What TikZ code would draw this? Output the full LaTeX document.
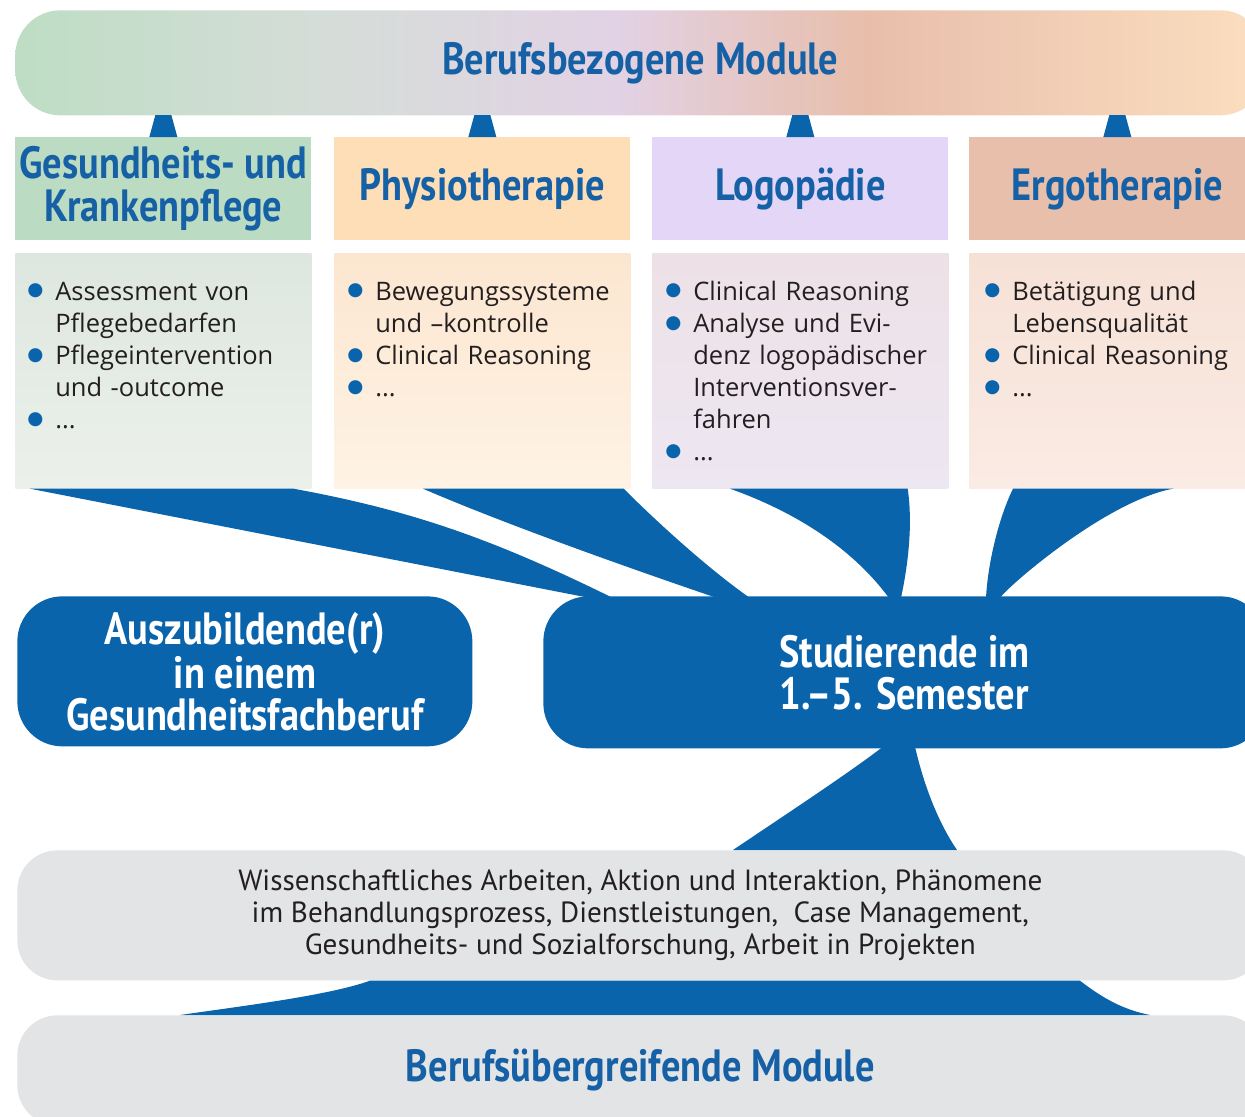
\documentclass[tikz,border=0pt]{standalone}
\usepackage{fontspec}
\setmainfont{Open Sans}
\newfontfamily\kopffont{PT Sans}[FakeStretch=0.85]
\newfontfamily\grundfont{PT Sans}
\newfontfamily\symfont{DejaVu Sans}
\usetikzlibrary{calc}

\definecolor{blau}{RGB}{10,100,172}
\definecolor{titelblau}{RGB}{22,97,166}
\definecolor{schrift}{RGB}{35,31,32}
\definecolor{grau}{RGB}{227,228,230}
\definecolor{gruen}{RGB}{187,220,194}
\definecolor{pfirsich}{RGB}{253,222,183}
\definecolor{lila}{RGB}{228,214,247}
\definecolor{lachs}{RGB}{232,191,170}
% verlauf oben
\definecolor{bgruen}{RGB}{190,221,196}
\definecolor{bgrau}{RGB}{214,221,217}
\definecolor{blila}{RGB}{226,210,229}
\definecolor{blachs}{RGB}{232,190,171}
\definecolor{bpfirsich}{RGB}{250,220,190}
\pgfdeclarehorizontalshading{bannerverlauf}{100bp}{color(0bp)=(bgruen); color(25bp)=(bgruen); color(38bp)=(bgrau); color(49bp)=(blila); color(59bp)=(blachs); color(74bp)=(bpfirsich); color(100bp)=(bpfirsich)}

\newcommand{\pkt}{\makebox[0pt][c]{\raisebox{0.3ex}{\textcolor{blau}{\symfont\fontsize{10.5}{10.5}\selectfont ●}}}\hspace*{4mm}}
\newcommand{\ein}{\hspace*{4mm}}

\tikzset{
  kopf/.style={anchor=north west, minimum width=59.2mm, minimum height=20.6mm, inner sep=0pt,
    align=center, text=titelblau, font=\kopffont\bfseries\fontsize{25.7}{24.5}\selectfont},
  inhalt/.style={anchor=north west, minimum width=59.2mm, minimum height=47mm, inner sep=0pt},
  liste/.style={anchor=base west, text width=57mm, align=left, inner sep=0pt, text=schrift,
    font=\fontsize{14.5}{18.3}\selectfont},
  blaubox/.style={anchor=north west, fill=blau, rounded corners=9mm, inner sep=0pt, align=center,
    text=white, font=\kopffont\bfseries\fontsize{25.7}{23.9}\selectfont},
  graubox/.style={anchor=north west, fill=grau, rounded corners=8mm, inner sep=0pt, align=center,
    minimum width=249.2mm},
  band/.style={fill=blau}
}

\begin{document}
\begin{tikzpicture}[x=0.2mm, y=-0.2mm]
   \useasboundingbox (0,0) rectangle (1245,1117);
   \clip (0,0) rectangle (1245,1117);
   %module oben
   \node[anchor=north west, shade, shading=bannerverlauf, rounded corners=9mm, minimum width=250mm,
     minimum height=21mm, inner sep=0pt, text=titelblau,
     font=\kopffont\bfseries\fontsize{25.7}{24.5}\selectfont] (modoben) at (15,10) {Berufsbezogene Module};
   %kopfzeilen
   \node[kopf, fill=gruen] (h1) at (15,137) {Gesundheits- und\\Krankenpflege};
   \node[kopf, fill=pfirsich] (h2) at (334,137) {Physiotherapie};
   \node[kopf, fill=lila] (h3) at (652,137) {Logopädie};
   \node[kopf, fill=lachs] (h4) at (969,137) {Ergotherapie};
   \foreach \k in {h1,h2,h3,h4}
     \fill[band] ($(\k.north)+(-14,0)$) -- ($(\k.north)+(14,0)$) -- ($(\k.north)+(8,-22)$) -- ($(\k.north)+(-8,-22)$) -- cycle;
   %inhalte
   \node[inhalt, top color={rgb,255:red,221;green,231;blue,223}, bottom color={rgb,255:red,236;green,240;blue,235}] (k1) at (15,253) {};
   \node[inhalt, top color={rgb,255:red,252;green,230;blue,208}, bottom color={rgb,255:red,254;green,243;blue,229}] (k2) at (334,253) {};
   \node[inhalt, top color={rgb,255:red,237;green,225;blue,230}, bottom color={rgb,255:red,237;green,231;blue,242}] (k3) at (652,253) {};
   \node[inhalt, top color={rgb,255:red,246;green,225;blue,214}, bottom color={rgb,255:red,250;green,235;blue,228}] (k4) at (969,253) {};
   \node[liste] (l1) at (35,300) {\pkt Assessment von\\\ein Pflegebedarfen\\\pkt Pflegeintervention\\\ein und -outcome\\\pkt ...};
   \node[liste] (l2) at (355,300) {\pkt Bewegungssysteme\\\ein und –kontrolle\\\pkt Clinical Reasoning\\\pkt ...};
   \node[liste] (l3) at (673,300) {\pkt Clinical Reasoning\\\pkt Analyse und Evi-\\\ein denz logopädischer\\\ein Interventionsver-\\\ein fahren\\\pkt ...};
   \node[liste] (l4) at (992,300) {\pkt Betätigung und\\\ein Lebensqualität\\\pkt Clinical Reasoning\\\pkt ...};
   %blaue kaesten
   \node[blaubox, minimum width=91mm, minimum height=30mm] (ausz) at (17,596) {Auszubildende(r)\\in einem\\Gesundheitsfachberuf};
   \node[blaubox, minimum width=144.4mm, minimum height=30.4mm] (stud) at (543,596) {Studierende im\\1.–5. Semester};
   %graue kaesten
   \node[graubox, minimum height=26mm, text=schrift, font=\grundfont\fontsize{16.6}{18.2}\selectfont] (g1) at (17,850)
     {Wissenschaftliches Arbeiten, Aktion und Interaktion, Phänomene\\im Behandlungsprozess, Dienstleistungen,\ \ Case Management,\\Gesundheits- und Sozialforschung, Arbeit in Projekten};
   \node[graubox, minimum height=22mm, text=titelblau, font=\kopffont\bfseries\fontsize{25.7}{24.5}\selectfont] (g2) at (17,1015) {Berufsübergreifende Module};
   %faecher
   \fill[band] ($(k1.south west)+(15,0)$) -- ($(k1.south east)+(-18,0)$) .. controls (409,510) and (489,537) .. ($(stud.north west)+(70,2)$) -- ($(stud.north west)+(47,2)$) -- cycle;
   \fill[band] ($(k2.south west)+(89,0)$) -- ($(k2.south east)+(-7,0)$) .. controls (660,525) and (710,570) .. ($(stud.north west)+(207,2)$) -- ($(stud.north west)+(174,2)$) .. controls (620,565) and (500,522) .. ($(k2.south west)+(89,0)$) -- cycle;
   \fill[band] ($(k3.south west)+(78,0)$) -- ($(k3.south east)+(-41,0)$) .. controls (913,525) and (908,565) .. ($(stud.north west)+(358,2)$) -- ($(stud.north west)+(346,2)$) .. controls (850,545) and (790,510) .. ($(k3.south west)+(78,0)$) -- cycle;
   \fill[band] ($(k4.south west)+(44,0)$) -- ($(k4.south west)+(204,0)$) .. controls (1106,501) and (1007,587) .. ($(stud.north west)+(457,2)$) -- ($(stud.north west)+(443,2)$) .. controls (988,560) and (1000,515) .. ($(k4.south west)+(44,0)$) -- cycle;
   \fill[band] ($(stud.south west)+(340,-2)$) -- ($(stud.south west)+(372,-2)$) .. controls (925,790) and (940,825) .. ($(g1.north west)+(940,0)$) -- ($(g1.north west)+(716,0)$) .. controls (800,805) and (850,772) .. ($(stud.south west)+(340,-2)$) -- cycle;
   \fill[band] ($(g1.south west)+(353,0)$) -- ($(g1.south west)+(1063,0)$) .. controls (1105,1000) and (1125,1010) .. ($(g2.north west)+(1133,0)$) -- ($(g2.north west)+(163,0)$) .. controls (250,1005) and (330,995) .. ($(g1.south west)+(353,0)$) -- cycle;
\end{tikzpicture}
\end{document}
